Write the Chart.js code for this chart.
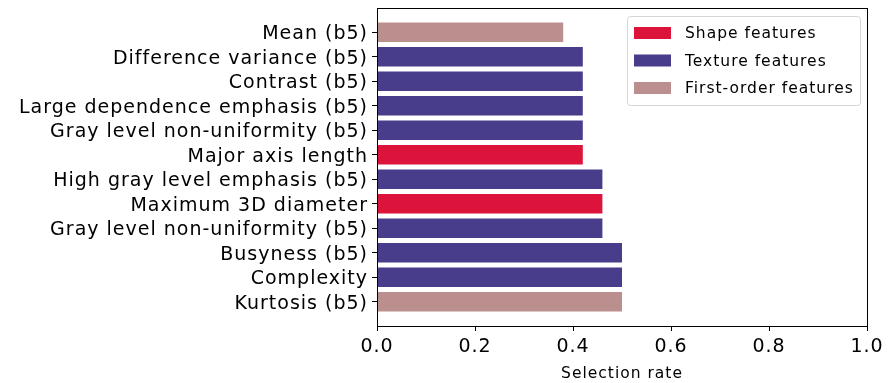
<!DOCTYPE html>
<html>
<head>
<meta charset="utf-8">
<script src="https://cdn.jsdelivr.net/npm/chart.js@4/dist/chart.umd.min.js"></script>
<style>
  html, body { margin: 0; padding: 0; background: #fff; }
  #wrap { width: 888px; height: 383px; }
</style>
</head>
<body>
<div id="wrap"><canvas id="myChart" width="888" height="383"></canvas></div>
<script>
'use strict';
let categories = ['Mean (b5)', 'Difference variance (b5)', 'Contrast (b5)', 'Large dependence emphasis (b5)',
  'Gray level non-uniformity (b5)', 'Major axis length', 'High gray level emphasis (b5)', 'Maximum 3D diameter',
  'Gray level non-uniformity (b5)', 'Busyness (b5)', 'Complexity', 'Kurtosis (b5)'];
let rates = [0.38, 0.42, 0.42, 0.42, 0.42, 0.42, 0.46, 0.46, 0.46, 0.50, 0.50, 0.50];
let groups = [2, 1, 1, 1, 1, 0, 1, 0, 1, 1, 1, 2];
let groupNames = ['Shape features', 'Texture features', 'First-order features'];
let groupColors = ['#DC143C', '#483D8B', '#BC8F8F'];
let xTicks = [0, 0.2, 0.4, 0.6, 0.8, 1.0];

let font = 'DejaVu Sans';

// the reference text is a bit wider than plain DejaVu
let spacingPlugin = {
  id: 'spacing',
  beforeDraw(chart) {
    chart.ctx.letterSpacing = '1px';
  }
};

// box round the plot, like matplotlib spines
let framePlugin = {
  id: 'frame',
  afterDraw(chart) {
    let ctx = chart.ctx;
    let a = chart.chartArea;
    ctx.save();
    ctx.strokeStyle = '#000';
    ctx.lineWidth = 1;
    ctx.strokeRect(Math.round(a.left) + 0.5, Math.round(a.top) + 0.5,
      Math.round(a.right - a.left), Math.round(a.bottom - a.top));
    ctx.restore();
  }
};

// legend drawn inside the plot, upper right
let legendPlugin = {
  id: 'innerLegend',
  afterDraw(chart) {
    let ctx = chart.ctx;
    let a = chart.chartArea;
    let w = 233, h = 89;
    let x = a.right - 7 - w;
    let y = a.top + 8;
    ctx.save();
    ctx.beginPath();
    ctx.roundRect(x + 0.5, y + 0.5, w, h, 3);
    ctx.fillStyle = 'rgba(255,255,255,0.8)';
    ctx.fill();
    ctx.strokeStyle = '#d6d6d6';
    ctx.lineWidth = 1;
    ctx.stroke();
    ctx.font = '15.5px "' + font + '"';
    ctx.textBaseline = 'middle';
    for (let i = 0; i < groupNames.length; i++) {
      let cy = y + 17 + i * 27.5;
      ctx.fillStyle = groupColors[i];
      ctx.fillRect(x + 7, cy - 6, 37, 12);
      ctx.fillStyle = '#000';
      ctx.fillText(groupNames[i], x + 58, cy + 1);
    }
    ctx.restore();
  }
};

let ctx = document.getElementById('myChart').getContext('2d');
let myChart = new Chart(ctx, {
  type: 'bar',
  data: {
    datasets: [{
      label: 'Selection rate',
      data: rates.map((v, i) => ({ x: v, y: i })),
      backgroundColor: groups.map(g => groupColors[g]),
      borderWidth: 0,
      barPercentage: 0.8,
      categoryPercentage: 1.0
    }]
  },
  options: {
    indexAxis: 'y',
    responsive: false,
    animation: false,
    layout: { padding: { top: 8, right: 21, left: 0, bottom: 0 } },
    plugins: {
      legend: { display: false },
      tooltip: { enabled: false }
    },
    scales: {
      x: {
        type: 'linear',
        min: 0,
        max: 1,
        afterBuildTicks(scale) {
          scale.ticks = xTicks.map(v => ({ value: v }));
        },
        afterFit(scale) {
          scale.height = 57;
          scale.paddingLeft = 0;
          scale.paddingRight = 0;
        },
        ticks: {
          color: '#000',
          font: { family: font, size: 19 },
          padding: 5,
          maxRotation: 0,
          callback: v => v.toFixed(1)
        },
        grid: { drawOnChartArea: false, tickLength: 5, color: '#000' },
        border: { display: true, color: '#000' },
        title: {
          display: true,
          text: 'Selection rate',
          color: '#000',
          font: { family: font, size: 15.5 },
          padding: { top: 0, bottom: 0 }
        }
      },
      y: {
        type: 'linear',
        reverse: true,
        offset: false,
        min: -0.99,
        max: 11.99,
        afterBuildTicks(scale) {
          scale.ticks = categories.map((c, i) => ({ value: i }));
        },
        afterFit(scale) {
          scale.width = 377;
          scale.paddingTop = 0;
          scale.paddingBottom = 0;
        },
        ticks: {
          color: '#000',
          font: { family: font, size: 19 },
          padding: 4,
          labelOffset: 2,
          autoSkip: false,
          callback: v => categories[v]
        },
        grid: { drawOnChartArea: false, offset: false, tickLength: 5, color: '#000' },
        border: { display: true, color: '#000' }
      }
    }
  },
  plugins: [spacingPlugin, framePlugin, legendPlugin]
});
</script>
</body>
</html>
